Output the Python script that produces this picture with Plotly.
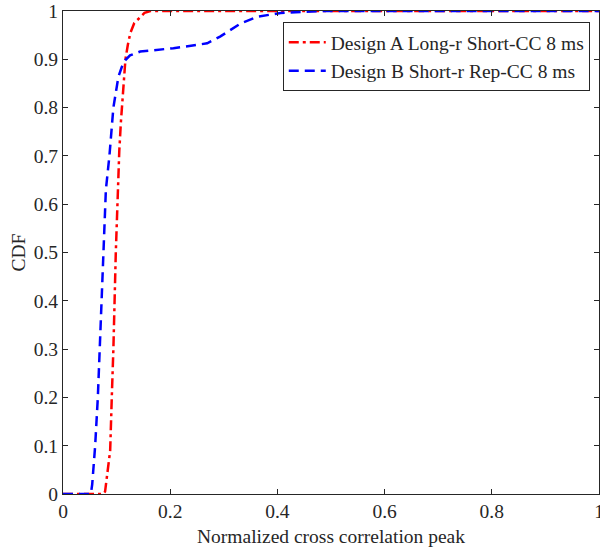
import plotly.graph_objects as go

# CDF of normalized cross correlation peak
a_x = [0, 0.075, 0.0785, 0.082, 0.088, 0.091, 0.094, 0.0985, 0.102, 0.105,
       0.108, 0.111, 0.1165, 0.121, 0.1255, 0.133, 0.144, 0.152, 0.163, 1.0]
a_y = [0, 0, 0.005, 0.04, 0.09, 0.20, 0.30, 0.50, 0.64, 0.71,
       0.77, 0.82, 0.90, 0.93, 0.954, 0.975, 0.988, 0.996, 1.0, 1.0]

b_x = [0, 0.052, 0.0545, 0.0575, 0.060, 0.065, 0.0685, 0.072, 0.076, 0.080,
       0.0866, 0.094, 0.1034, 0.110, 0.116, 0.125, 0.144, 0.206, 0.269, 0.293,
       0.331, 0.362, 0.406, 0.450, 0.480, 1.0]
b_y = [0, 0, 0.02, 0.06, 0.10, 0.20, 0.30, 0.42, 0.54, 0.63,
       0.70, 0.80, 0.864, 0.885, 0.898, 0.908, 0.916, 0.923, 0.933, 0.947,
       0.974, 0.988, 0.996, 0.999, 1.0, 1.0]

names = ["Design A Long-r Short-CC 8 ms", "Design B Short-r Rep-CC 8 ms"]

fig = go.Figure()
fig.add_trace(go.Scatter(x=a_x, y=a_y, mode="lines", name=names[0],
                         line=dict(color="#ff0000", width=2.5, dash="10px,4px,3px,4px")))
fig.add_trace(go.Scatter(x=b_x, y=b_y, mode="lines", name=names[1],
                         line=dict(color="#0000ff", width=2.5, dash="10px,6px")))

fs = 19.5
axis_style = dict(showline=True, linecolor="#262626", linewidth=1, mirror="ticks",
                  ticks="inside", ticklen=5, tickcolor="#262626", showgrid=False,
                  zeroline=False, automargin=False, ticklabeloverflow="allow",
                  tickfont=dict(size=fs, color="#262626"))

fig.update_xaxes(range=[0, 1], dtick=0.2, **axis_style)
fig.update_yaxes(range=[0, 1], dtick=0.1, **axis_style)

# axis titles placed as annotations so they sit where the reference has them
fig.add_annotation(text="Normalized cross correlation peak", xref="paper", yref="paper",
                   x=0.5, y=0, yshift=-30, xanchor="center", yanchor="top",
                   showarrow=False, font=dict(size=fs, color="#262626"))
fig.add_annotation(text="CDF", xref="paper", yref="paper", x=0, xshift=-45,
                   y=0.5, xanchor="center", yanchor="middle", textangle=-90,
                   showarrow=False, font=dict(size=fs, color="#262626"))

fig.update_layout(
    width=600, height=550,
    margin=dict(l=63, r=1, t=11, b=56),
    plot_bgcolor="white", paper_bgcolor="white",
    font=dict(family="Liberation Serif", size=fs, color="#262626"),
    legend=dict(x=0.41, y=0.977, xanchor="left", yanchor="top",
                bgcolor="white", bordercolor="#262626", borderwidth=1,
                font=dict(size=fs), tracegroupgap=0, itemwidth=37),
    showlegend=True,
)

# drop the default 8px body margin so the figure sits at the page corner
fig.write_html("out.html", config={"displayModeBar": False},
               post_script="document.body.style.margin='0';")
